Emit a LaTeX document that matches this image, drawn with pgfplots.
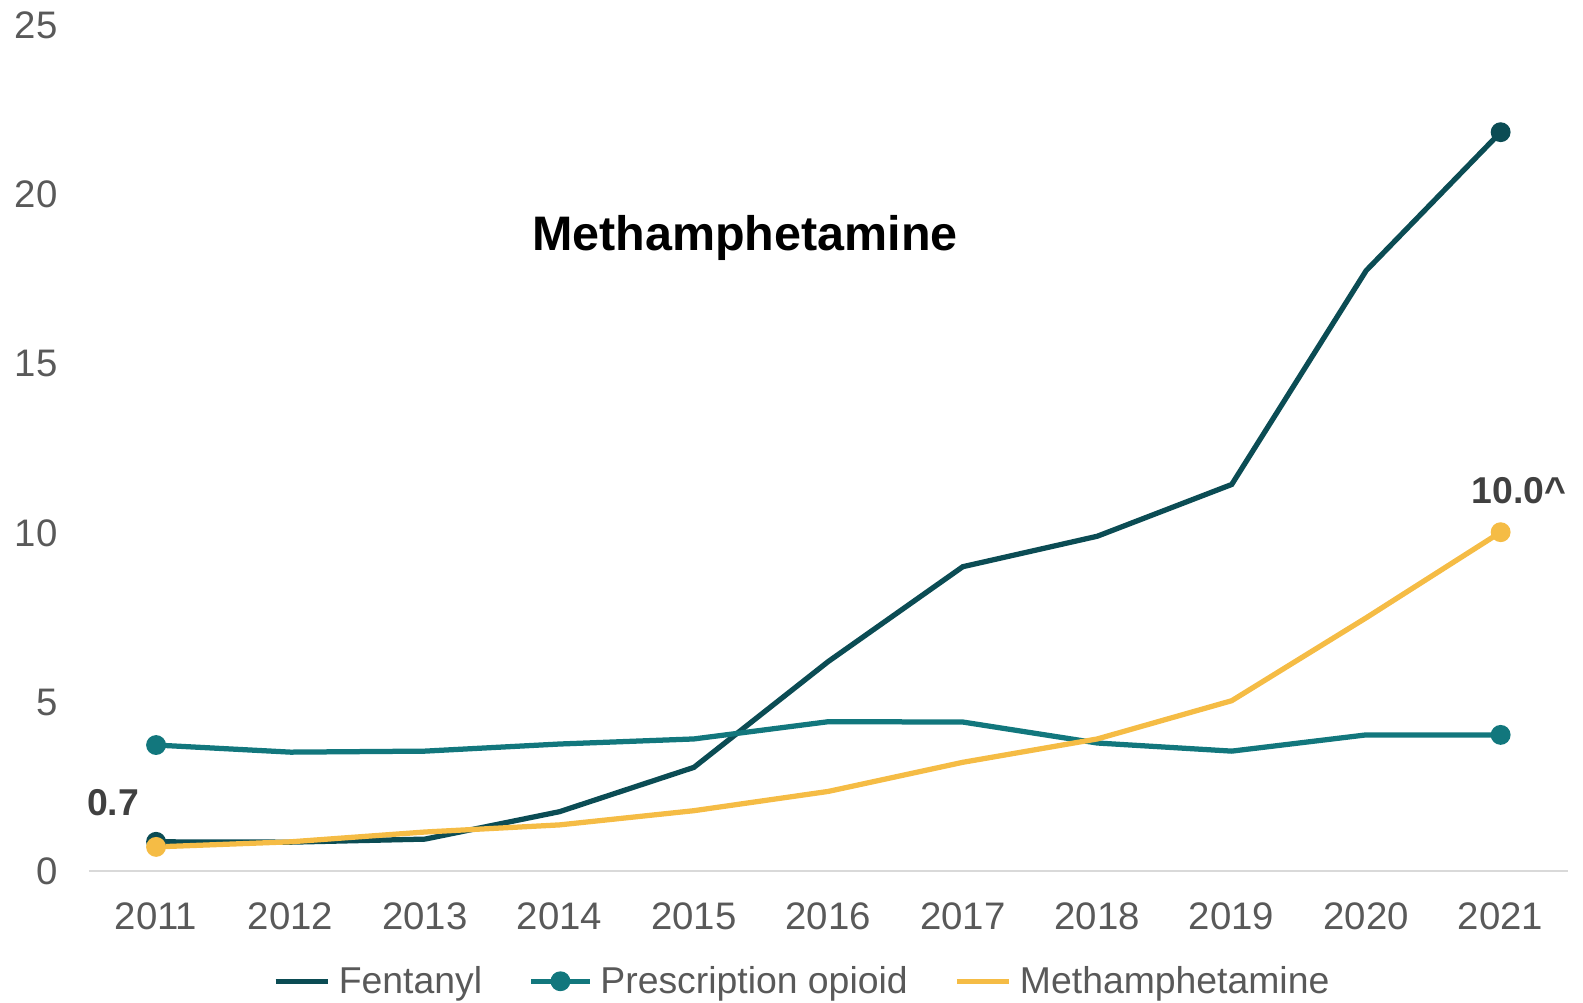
\documentclass[border=0pt]{standalone}
\usepackage{pgfplots}
\pgfplotsset{compat=1.18}
\usepackage{fontspec}
\setmainfont{Liberation Sans}
\definecolor{fent}{HTML}{0B4C54}
\definecolor{presc}{HTML}{12777D}
\definecolor{meth}{HTML}{F5BC45}
\definecolor{tickgray}{HTML}{595959}
\definecolor{lblgray}{HTML}{404040}
\definecolor{axgray}{HTML}{D9D9D9}
\pgfplotsset{
  legline/.style={legend image code/.code={\draw[##1, mark=none] (0pt,0pt) -- (26pt,0pt);}},
  legmark/.style={legend image code/.code={\draw[##1, mark=none] (0pt,0pt) -- (29pt,0pt); \fill[presc] (14.5pt,0pt) circle (3.6pt);}},
}
\begin{document}
\begin{tikzpicture}
\begin{axis}[
  at={(0,0)}, anchor=south west,
  scale only axis,
  width=732.5pt, height=419pt,
  xmin=2010.5, xmax=2021.5,
  ymin=0, ymax=25,
  axis line style={draw=none},
  axis x line*=bottom,
  axis y line*=left,
  xtick={2011,...,2021},
  xticklabels={2011,2012,2013,2014,2015,2016,2017,2018,2019,2020,2021},
  ytick={0,5,10,15,20,25},
  tick style={draw=none},
  /pgf/number format/assume math mode=true,
  tick label style={font=\fontsize{19}{21}\selectfont, text=tickgray},
  xticklabel style={yshift=-12pt},
  yticklabel style={xshift=-12pt},
  clip=false,
  legend columns=3,
  legend style={draw=none, fill=none, at={(0.483,-0.13)}, anchor=center,
    font=\fontsize{18.5}{20}\selectfont, text=tickgray,
    /tikz/every even column/.append style={column sep=21pt},
    /tikz/every odd column/.append style={column sep=2pt},
    inner sep=0pt},
  legend cell align=left,
]
\draw[axgray, line width=1.2pt] (rel axis cs:0,0) -- (rel axis cs:1,0);
\addplot[fent, line width=2.6pt, mark=*, mark size=3.6pt, mark indices={1,11}, legline]
 coordinates {(2011,0.87)(2012,0.86)(2013,0.95)(2014,1.76)(2015,3.07)(2016,6.2)(2017,9.0)(2018,9.9)(2019,11.43)(2020,17.75)(2021,21.84)};
\addlegendentry{Fentanyl}
\addplot[presc, line width=2.6pt, mark=*, mark size=3.6pt, mark indices={1,11}, legmark]
 coordinates {(2011,3.73)(2012,3.52)(2013,3.55)(2014,3.76)(2015,3.91)(2016,4.42)(2017,4.41)(2018,3.79)(2019,3.55)(2020,4.03)(2021,4.03)};
\addlegendentry{Prescription opioid}
\addplot[meth, line width=2.6pt, mark=*, mark size=3.6pt, mark indices={1,11}, legline]
 coordinates {(2011,0.72)(2012,0.87)(2013,1.16)(2014,1.37)(2015,1.79)(2016,2.36)(2017,3.22)(2018,3.91)(2019,5.04)(2020,7.49)(2021,10.02)};
\addlegendentry{Methamphetamine}
\node[font=\bfseries\fontsize{24}{27}\selectfont, text=black] at (axis cs:2015.38,18.7) {Methamphetamine};
\node[font=\bfseries\fontsize{18.5}{20}\selectfont, text=lblgray] at (axis cs:2010.68,2.03) {0.7};
\node[font=\bfseries\fontsize{18.5}{20}\selectfont, text=lblgray] at (axis cs:2021.135,11.25) {10.0\^{}};
\end{axis}
\pgfresetboundingbox
\path[use as bounding box] (-44pt,-65pt) rectangle (740pt,431.5pt);
\end{tikzpicture}
\end{document}
